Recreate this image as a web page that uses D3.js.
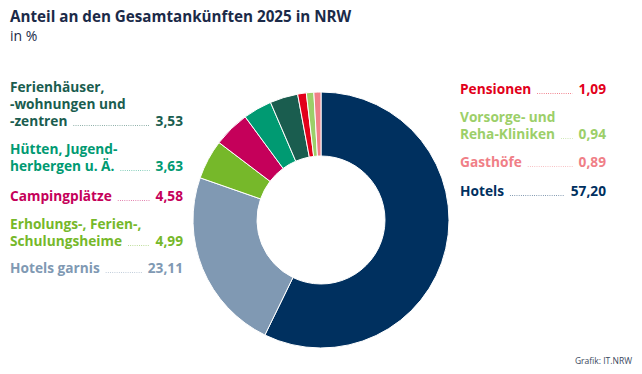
<!DOCTYPE html>
<html>
<head>
<meta charset="utf-8">
<script src="https://cdn.jsdelivr.net/npm/d3@7"></script>
<style>
  body { margin: 0; background: #fff; }
  text { font-family: "Open Sans", sans-serif; }
</style>
</head>
<body>
<div id="chart"></div>
<script>
// data, clockwise from 12 o'clock
var categories = ["Hotels", "Hotels garnis", "Erholungs-, Ferien-, Schulungsheime", "Campingplätze",
    "Hütten, Jugendherbergen u. Ä.", "Ferienhäuser, -wohnungen und -zentren", "Pensionen",
    "Vorsorge- und Reha-Kliniken", "Gasthöfe"];
var values = [57.20, 23.11, 4.99, 4.58, 3.63, 3.53, 1.09, 0.94, 0.89];
var colors = ["#00305f", "#8099b3", "#76b82a", "#c5005a", "#009a72", "#1a5d4f", "#e2001a", "#9ccf69", "#f07f87"];
var labelLines = [
    ["Hotels"],
    ["Hotels garnis"],
    ["Erholungs-, Ferien-,", "Schulungsheime"],
    ["Campingplätze"],
    ["Hütten, Jugend-", "herbergen u. Ä."],
    ["Ferienhäuser,", "-wohnungen und", "-zentren"],
    ["Pensionen"],
    ["Vorsorge- und", "Reha-Kliniken"],
    ["Gasthöfe"]
];

var width = 642, height = 374;
var de = d3.formatLocale({ decimal: ",", thousands: ".", grouping: [3], currency: ["", " €"] });
var fmt = de.format(".2f");

var svg = d3.select("#chart").append("svg")
    .attr("width", width)
    .attr("height", height);

svg.append("text")
    .attr("x", 10).attr("y", 22)
    .style("font-size", "15.2px").style("font-weight", 700)
    .style("fill", "#1b2a48")
    .text("Anteil an den Gesamtankünften 2025 in NRW");

svg.append("text")
    .attr("x", 10).attr("y", 41)
    .style("font-size", "14px")
    .style("fill", "#1b2a48")
    .text("in %");

svg.append("text")
    .attr("x", 632).attr("y", 364)
    .attr("text-anchor", "end")
    .style("font-size", "8.5px")
    .style("fill", "#3a4760")
    .text("Grafik: IT.NRW");

// donut
var cx = 321, cy = 220, rOuter = 128, rInner = 64;
var pie = d3.pie().sort(null).value(function (d) { return d; });
var arc = d3.arc().innerRadius(rInner).outerRadius(rOuter);

svg.append("g")
    .attr("transform", "translate(" + cx + "," + cy + ")")
    .selectAll("path")
    .data(pie(values))
    .enter().append("path")
    .attr("d", arc)
    .style("fill", function (d, i) { return colors[i]; })
    .style("stroke", "#fff")
    .style("stroke-width", 1);

// label layout: side, left x, value x, first baseline
var layout = [
    { x: 460, vx: 606, y: 196 },
    { x: 10, vx: 183, y: 273 },
    { x: 10, vx: 183, y: 229 },
    { x: 10, vx: 183, y: 201 },
    { x: 10, vx: 183, y: 154 },
    { x: 10, vx: 183, y: 92 },
    { x: 460, vx: 606, y: 94 },
    { x: 460, vx: 606, y: 122 },
    { x: 460, vx: 606, y: 167 }
];
var lineH = 17;

var labels = svg.append("g").attr("class", "labels");

categories.forEach(function (c, i) {
    var p = layout[i];
    var g = labels.append("g").attr("class", "label");
    var lines = labelLines[i];
    var last;
    lines.forEach(function (l, j) {
        last = g.append("text")
            .attr("x", p.x)
            .attr("y", p.y + j * lineH)
            .style("font-size", "13.7px").style("font-weight", 700)
            .style("fill", colors[i])
            .text(l);
    });
    var yLast = p.y + (lines.length - 1) * lineH;
    var val = g.append("text")
        .attr("x", p.vx)
        .attr("y", yLast)
        .attr("text-anchor", "end")
        .style("font-size", "13.7px").style("font-weight", 700)
        .style("fill", colors[i])
        .text(fmt(values[i]));
    var x1 = p.x + last.node().getComputedTextLength() + 6;
    var x2 = p.vx - val.node().getComputedTextLength() - 6;
    g.append("line")
        .attr("x1", x1).attr("x2", x2)
        .attr("y1", yLast - 0.5).attr("y2", yLast - 0.5)
        .style("stroke", colors[i])
        .style("stroke-opacity", 0.75)
        .style("stroke-width", 0.8)
        .style("stroke-dasharray", "0.8,1.4");
});
</script>
</body>
</html>
